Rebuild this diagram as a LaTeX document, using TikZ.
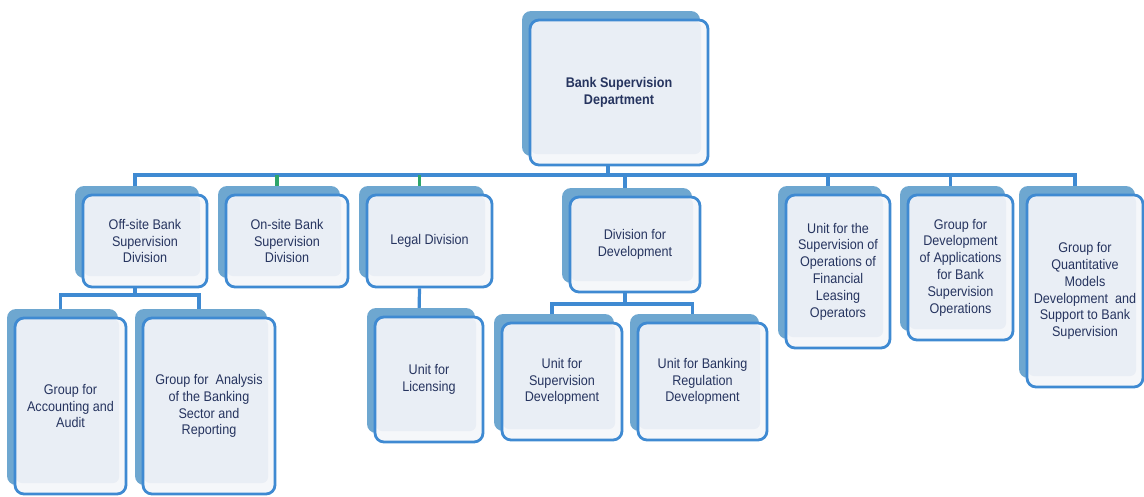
\documentclass[tikz,border=0pt]{standalone}
\usepackage{fontspec}
\setmainfont{Liberation Sans}[FakeStretch=0.9]
\usetikzlibrary{shadows,backgrounds}

\definecolor{boxline}{HTML}{3F8AD2}
\definecolor{boxshade}{HTML}{6EA7D0}
\definecolor{boxfill}{HTML}{E9EEF5}
\definecolor{boxtext}{HTML}{26345F}
\definecolor{tickgreen}{HTML}{2EA56B}

\tikzset{
  unitbox/.style={draw=boxline, line width=2.8pt, fill=white!55!boxfill, rounded corners=9pt,
    align=center, text=boxtext, inner sep=2pt,
    font=\fontsize{14}{16.8}\selectfont,
    path picture={\fill[boxfill, rounded corners=6pt]
      ([shift={(1pt,-1pt)}]path picture bounding box.north west) rectangle
      ([shift={(-7pt,11pt)}]path picture bounding box.south east);},
    copy shadow={shadow xshift=-8pt, shadow yshift=9pt, fill=boxshade, draw=none}},
  link/.style={draw=boxline, line width=3.2pt, line join=miter}
}

\begin{document}
\begin{tikzpicture}[x=1pt, y=-1pt]
		\useasboundingbox (0,0) rectangle (1144,496);
		
		% top
		\node[unitbox, minimum width=178pt, minimum height=145pt, font=\fontsize{14}{16.8}\selectfont\bfseries] (dept) at (619,92.5) {Bank Supervision\\Department};
		
		% divisions and units below the department
		\node[unitbox, minimum width=124pt, minimum height=92pt] (offsite) at (145,241) {Off-site Bank\\Supervision\\Division};
		\node[unitbox, minimum width=122pt, minimum height=92pt] (onsite) at (287,241) {On-site Bank\\Supervision\\Division};
		\node[unitbox, minimum width=125pt, minimum height=92pt] (legal) at (429.5,241) {Legal Division};
		\node[unitbox, minimum width=130pt, minimum height=95pt] (divdev) at (635,244.5) {Division for\\Development};
		\node[unitbox, minimum width=104pt, minimum height=153pt] (leasing) at (838,271.5) {Unit for the\\Supervision of\\Operations of\\Financial\\Leasing\\Operators};
		\node[unitbox, minimum width=105pt, minimum height=145pt] (apps) at (960.5,267.5) {Group for\\Development\\of Applications\\for Bank\\Supervision\\Operations};
		\node[unitbox, minimum width=116pt, minimum height=192pt] (quant) at (1085,291) {Group for\\Quantitative\\Models\\Development~ and\\Support to Bank\\Supervision};
		
		% third level
		\node[unitbox, minimum width=111pt, minimum height=176pt] (audit) at (70.5,406) {Group for\\Accounting and\\Audit};
		\node[unitbox, minimum width=132pt, minimum height=176pt] (sector) at (209,406) {Group for~ Analysis\\of the Banking\\Sector and\\Reporting};
		\node[unitbox, minimum width=108pt, minimum height=125pt] (licence) at (429,379.5) {Unit for\\Licensing};
		\node[unitbox, minimum width=120pt, minimum height=117pt] (supdev) at (562,381.5) {Unit for\\Supervision\\Development};
		\node[unitbox, minimum width=129pt, minimum height=117pt] (regdev) at (702.5,381.5) {Unit for Banking\\Regulation\\Development};
		
		\coordinate (bus) at (0,175);
		\coordinate (offbus) at (0,295);
		\coordinate (devbus) at (0,304);
		
		\begin{scope}[on background layer]
			\draw[link] ([xshift=-11pt]dept.south) -- ([xshift=-11pt]dept.south |- bus);
			\draw[link] ([xshift=-10pt]offsite.north) -- ([xshift=-10pt]offsite.north |- bus) -- ([xshift=-10pt]quant.north |- bus) -- ([xshift=-10pt]quant.north);
			\foreach \n in {divdev, leasing, apps}
				\draw[link] ([xshift=-10pt]\n.north) -- ([xshift=-10pt]\n.north |- bus);
			\foreach \n in {onsite, legal}
				\draw[link, draw=tickgreen] ([xshift=-10pt]\n.north) -- ([xshift=-10pt]\n.north |- bus);
			
			\draw[link] ([xshift=-10pt]offsite.south) -- ([xshift=-10pt]offsite.south |- offbus);
			\draw[link] ([xshift=-10pt]audit.north) -- ([xshift=-10pt]audit.north |- offbus) -- ([xshift=-10pt]sector.north |- offbus) -- ([xshift=-10pt]sector.north);
			
			\draw[link] ([xshift=-10pt]legal.south) -- ([xshift=-10pt]licence.north);
			
			\draw[link] ([xshift=-10pt]divdev.south) -- ([xshift=-10pt]divdev.south |- devbus);
			\draw[link] ([xshift=-10pt]supdev.north) -- ([xshift=-10pt]supdev.north |- devbus) -- ([xshift=-10pt]regdev.north |- devbus) -- ([xshift=-10pt]regdev.north);
		\end{scope}
		
	\end{tikzpicture}
\end{document}
